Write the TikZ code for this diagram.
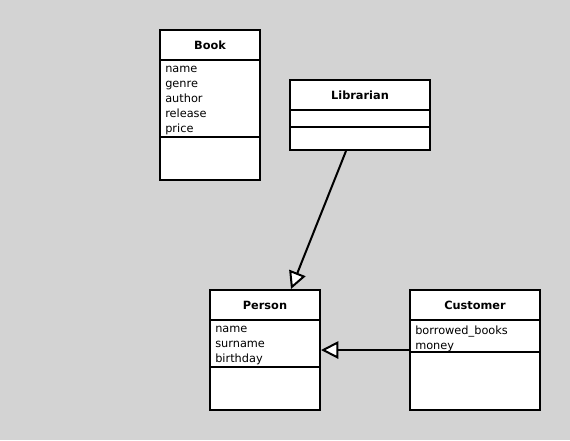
\documentclass[tikz,border=0pt]{standalone}
\usepackage{fontspec}
\setmainfont{DejaVu Sans}
\usetikzlibrary{arrows.meta}
\definecolor{canvas}{RGB}{211,211,211}

\tikzset{
  classbox/.style={draw, fill=white, line width=1.5pt, inner sep=0pt},
  classline/.style={line width=1.5pt},
  classname/.style={font=\fontsize{8.5}{11.25}\selectfont\bfseries},
  classattr/.style={font=\fontsize{8.5}{11.25}\selectfont, align=left, anchor=north west, inner sep=0pt},
  inherit/.style={line width=1.5pt, -{Triangle[fill=white, length=13pt, width=13pt, line width=1.5pt]}}
}

\begin{document}
\begin{tikzpicture}[x=0.75pt, y=-0.75pt]
        \fill[canvas] (0, 0) rectangle (570, 440);
        \useasboundingbox (0, 0) rectangle (570, 440);

        % classes
        \node[classbox, minimum width=75pt, minimum height=112.5pt] (book) at (210, 105) {};
        \node[classbox, minimum width=105pt, minimum height=52.5pt] (librarian) at (360, 115) {};
        \node[classbox, minimum width=82.5pt, minimum height=90pt] (person) at (265, 350) {};
        \node[classbox, minimum width=97.5pt, minimum height=90pt] (customer) at (475, 350) {};

        \draw[classline] (book.west |- 0, 60) -- (book.east |- 0, 60)
        (book.west |- 0, 137) -- (book.east |- 0, 137);
        \draw[classline] (librarian.west |- 0, 110) -- (librarian.east |- 0, 110)
        (librarian.west |- 0, 127) -- (librarian.east |- 0, 127);
        \draw[classline] (person.west |- 0, 320) -- (person.east |- 0, 320)
        (person.west |- 0, 367) -- (person.east |- 0, 367);
        \draw[classline] (customer.west |- 0, 320) -- (customer.east |- 0, 320)
        (customer.west |- 0, 352) -- (customer.east |- 0, 352);

        % names
        \node[classname] (book-name) at (210, 45) {Book};
        \node[classname] (librarian-name) at (360, 95) {Librarian};
        \node[classname] (person-name) at (265, 305) {Person};
        \node[classname] (customer-name) at (475, 305) {Customer};

        % attributes
        \node[classattr] (book-attr) at (165, 66) {name\\genre\\author\\release\\price};
        \node[classattr] (person-attr) at (215, 326) {name\\surname\\birthday};
        \node[classattr] (customer-attr) at (415, 326) {borrowed\_books\\money};

        % inheritance
        \draw[inherit] ([xshift=-10.5pt]librarian.south) -- ([xshift=19.5pt]person.north);
        \draw[inherit] (customer.west) -- (person.east);

    \end{tikzpicture}
\end{document}
